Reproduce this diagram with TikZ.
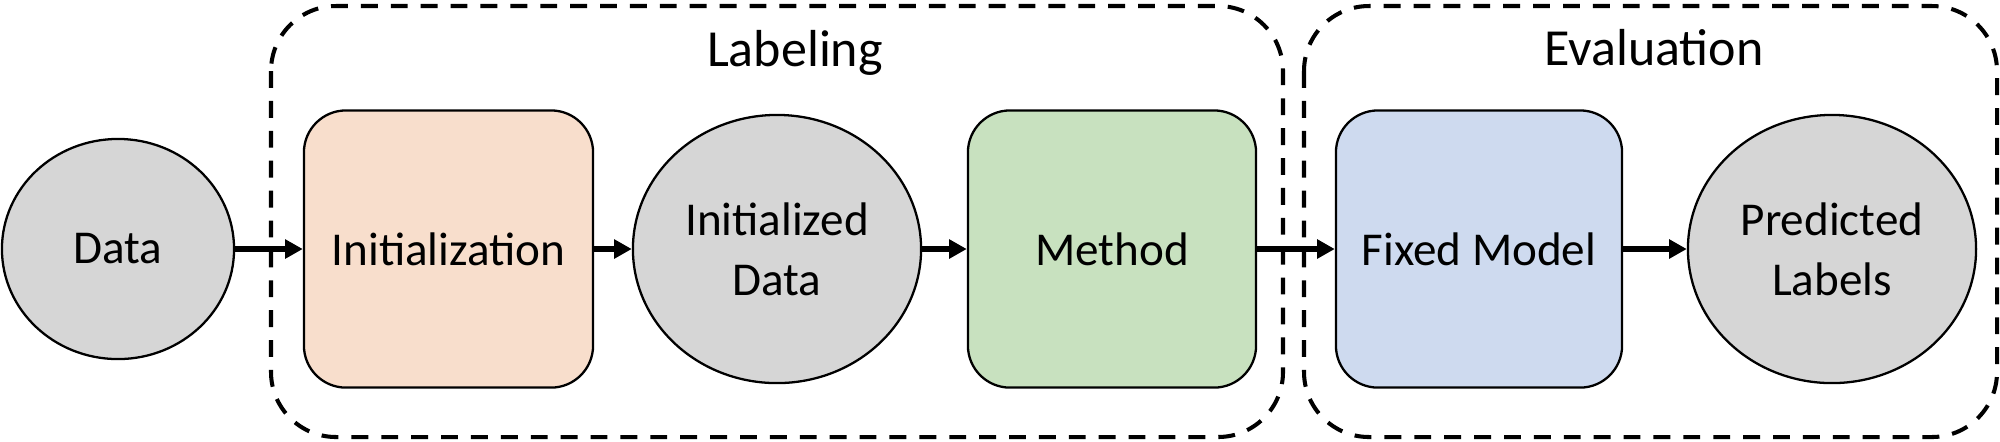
\documentclass[tikz,border=0pt]{standalone}
\usepackage{fontspec}
\setmainfont{Carlito}
\usetikzlibrary{shapes.geometric,arrows.meta}
\definecolor{grayfill}{HTML}{D6D6D6}
\definecolor{peach}{HTML}{F8DECC}
\definecolor{mint}{HTML}{C8E1BF}
\definecolor{paleblue}{HTML}{CEDAEF}
\tikzset{
  txt/.style={font=\fontsize{13.4pt}{17pt}\selectfont, align=center, text=black},
  titletxt/.style={font=\fontsize{14.8pt}{18pt}\selectfont, text=black},
  oval/.style={ellipse, draw=black, line width=0.65pt, fill=grayfill, inner sep=0pt, txt},
  stepbox/.style={rectangle, rounded corners=0.42cm, draw=black, line width=0.65pt, inner sep=0pt, txt},
  group/.style={draw=black, line width=1.15pt, dash pattern=on 4.8pt off 3.7pt, rounded corners=0.65cm},
  flow/.style={line width=1.7pt, -{Triangle[length=5pt,width=5.2pt]}},
}
\begin{document}
\begin{tikzpicture}[x=0.01cm, y=-0.01cm]
\useasboundingbox (0,0) rectangle (2000,441);
% group boxes
\draw[group] (271,6) rectangle (1283,437);
\draw[group] (1304,6) rectangle (1997,437);
\node[titletxt, anchor=base] (labtitle) at (795,66) {Labeling};
\node[titletxt, anchor=base] (evaltitle) at (1654,65) {Evaluation};
% nodes
\node[oval, minimum width=2.32cm, minimum height=2.20cm] (data) at (118,249) {Data};
\node[stepbox, fill=peach, minimum width=2.89cm, minimum height=2.77cm] (init) at (448.5,249) {Initialization};
\node[oval, minimum width=2.88cm, minimum height=2.68cm] (idata) at (777,249) {Initialized\\Data};
\node[stepbox, fill=mint, minimum width=2.88cm, minimum height=2.77cm] (method) at (1112,249) {Method};
\node[stepbox, fill=paleblue, minimum width=2.86cm, minimum height=2.77cm] (fixed) at (1479,249) {Fixed Model};
\node[oval, minimum width=2.88cm, minimum height=2.68cm] (pred) at (1832,249) {Predicted\\Labels};
% connectors
\draw[flow] (data) -- (init);
\draw[flow] (init) -- (idata);
\draw[flow] (idata) -- (method);
\draw[flow] (method) -- (fixed);
\draw[flow] (fixed) -- (pred);
\end{tikzpicture}
\end{document}
